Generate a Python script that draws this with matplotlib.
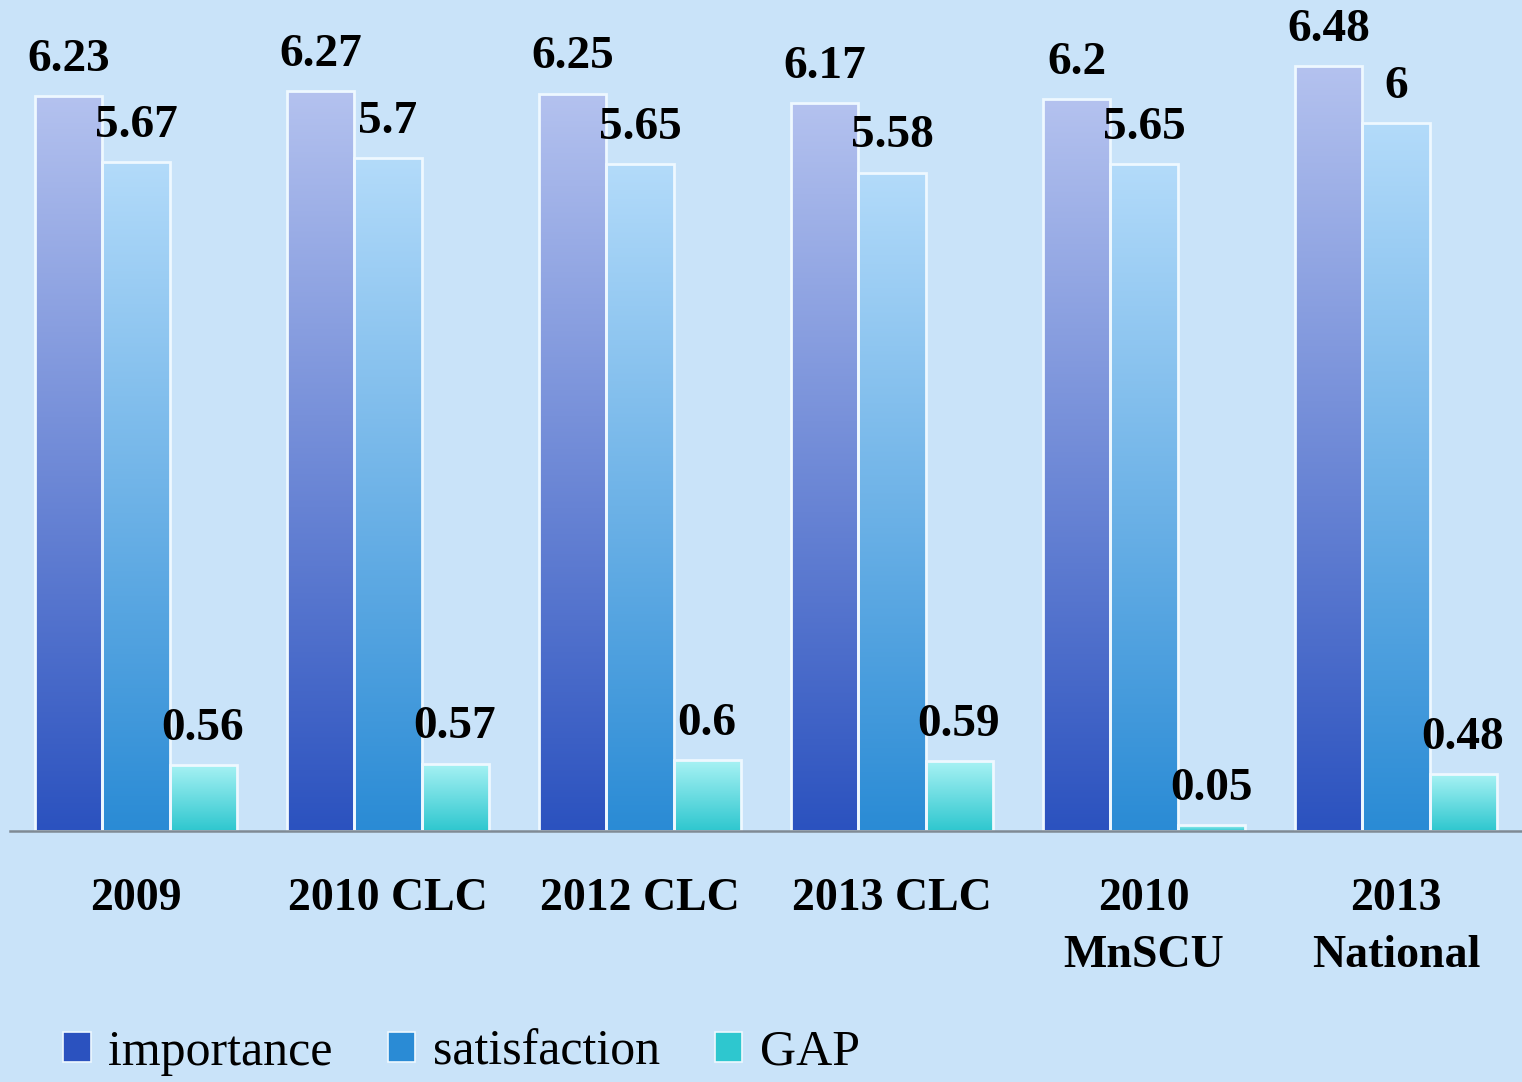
import matplotlib;matplotlib.use("Agg")
import matplotlib.pyplot as plt
import matplotlib.patches as mpatches
import numpy as np

categories = ['2009', '2010 CLC', '2012 CLC', '2013 CLC', '2010\nMnSCU', '2013\nNational']
importance = [6.23, 6.27, 6.25, 6.17, 6.2, 6.48]
satisfaction = [5.67, 5.7, 5.65, 5.58, 5.65, 6]
gap = [0.56, 0.57, 0.6, 0.59, 0.05, 0.48]
series_names = ['importance', 'satisfaction', 'GAP']

bg = '#c9e3f9'
# top / bottom colours of each gradient
grads = [('#b4c2ef', '#2b52bf'),
         ('#b3dbfa', '#2a8bd5'),
         ('#a8f2f4', '#2ec7cf')]

serif = ['Liberation Serif', 'DejaVu Serif']


def fill_gradient(ax, bar, top, bottom):
    x0, y0 = bar.get_x(), bar.get_y()
    w, h = bar.get_width(), bar.get_height()
    c1 = np.array(matplotlib.colors.to_rgb(top))
    c2 = np.array(matplotlib.colors.to_rgb(bottom))
    t = np.linspace(0, 1, 256)[:, None]
    img = (c1 * (1 - t) + c2 * t)[:, None, :]
    im = ax.imshow(img, extent=[x0, x0 + w, y0, y0 + h], aspect='auto',
                   origin='upper', zorder=2, interpolation='bilinear')
    im.set_clip_path(bar)


fig = plt.figure(figsize=(15.22, 10.82), dpi=100, facecolor=bg)
ax = fig.add_axes([10 / 1522, (1082 - 831) / 1082, 1512 / 1522, 826 / 1082])
ax.set_facecolor(bg)

x = np.arange(len(categories))
w = 0.266
for i, vals in enumerate([importance, satisfaction, gap]):
    bars = ax.bar(x + (i - 1) * w, vals, w, color=grads[i][1],
                  edgecolor='#eef8ff', linewidth=2.0, zorder=3)
    for b, v in zip(bars, vals):
        b.set_facecolor('none')
        fill_gradient(ax, b, grads[i][0], grads[i][1])
        ax.text(b.get_x() + b.get_width() / 2, v + 0.13, '%g' % v,
                ha='center', va='bottom', fontsize=34, fontweight='bold',
                family=serif, color='black', zorder=5)

ax.set_xlim(-0.5, 5.5)
ax.set_ylim(0, 7)
for s in ['top', 'right', 'left']:
    ax.spines[s].set_visible(False)
ax.spines['bottom'].set_color('#7f8a94')
ax.spines['bottom'].set_linewidth(1.8)
ax.spines['bottom'].set_zorder(4)
ax.set_yticks([])
ax.set_xticks(x)
ax.set_xticklabels(categories, fontsize=33, fontweight='bold', family=serif,
                   linespacing=1.45)
ax.tick_params(axis='x', length=0, pad=34)

handles = [mpatches.Patch(facecolor=grads[i][1], edgecolor='#eef8ff',
                          linewidth=1.2, label=series_names[i]) for i in range(3)]
fig.legend(handles=handles, loc='lower left', bbox_to_anchor=(0.012, -0.036),
           ncol=3, frameon=False, prop={'family': serif, 'size': 36},
           handlelength=0.55, handleheight=0.55, handletextpad=0.35,
           columnspacing=1.1)

plt.savefig('out.png', dpi=100, facecolor=bg)
